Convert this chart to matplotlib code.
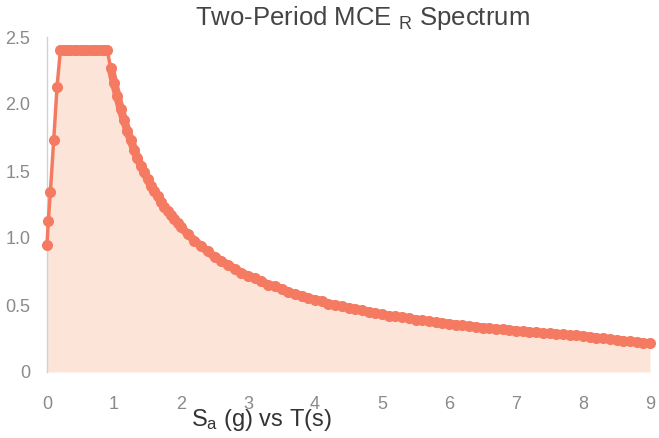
import matplotlib
matplotlib.use("Agg")
import matplotlib.pyplot as plt

# ---- data ----
period_s = [0.0, 0.02, 0.05, 0.10, 0.15,
            0.20, 0.25, 0.30, 0.35, 0.40, 0.45, 0.50, 0.55, 0.60, 0.65, 0.70, 0.75, 0.80, 0.85, 0.90,
            0.95, 1.00, 1.05, 1.10, 1.15, 1.20, 1.25, 1.30, 1.35, 1.40, 1.45, 1.50, 1.55, 1.60, 1.65,
            1.70, 1.75, 1.80, 1.85, 1.90, 1.95, 2.00,
            2.1, 2.2, 2.3, 2.4, 2.5, 2.6, 2.7, 2.8, 2.9, 3.0,
            3.1, 3.2, 3.3, 3.4, 3.5, 3.6, 3.7, 3.8, 3.9, 4.0,
            4.1, 4.2, 4.3, 4.4, 4.5, 4.6, 4.7, 4.8, 4.9, 5.0,
            5.1, 5.2, 5.3, 5.4, 5.5, 5.6, 5.7, 5.8, 5.9, 6.0,
            6.1, 6.2, 6.3, 6.4, 6.5, 6.6, 6.7, 6.8, 6.9, 7.0,
            7.1, 7.2, 7.3, 7.4, 7.5, 7.6, 7.7, 7.8, 7.9, 8.0,
            8.1, 8.2, 8.3, 8.4, 8.5, 8.6, 8.7, 8.8, 8.9, 9.0]
sa_g = [0.95, 1.13, 1.34, 1.73, 2.13,
        2.40, 2.40, 2.40, 2.40, 2.40, 2.40, 2.40, 2.40, 2.40, 2.40, 2.40, 2.40, 2.40, 2.40, 2.40,
        2.27, 2.16, 2.06, 1.96, 1.88, 1.80, 1.73, 1.66, 1.60, 1.54, 1.49, 1.44, 1.39, 1.35, 1.31,
        1.27, 1.23, 1.20, 1.17, 1.14, 1.11, 1.08,
        1.03, 0.98, 0.94, 0.90, 0.86, 0.83, 0.80, 0.77, 0.74, 0.72,
        0.70, 0.68, 0.65, 0.64, 0.62, 0.60, 0.58, 0.57, 0.55, 0.54,
        0.53, 0.51, 0.50, 0.49, 0.48, 0.47, 0.46, 0.45, 0.44, 0.43,
        0.42, 0.415, 0.41, 0.40, 0.39, 0.386, 0.38, 0.37, 0.366, 0.36,
        0.354, 0.348, 0.343, 0.338, 0.332, 0.327, 0.322, 0.318, 0.313, 0.309,
        0.304, 0.300, 0.296, 0.292, 0.288, 0.284, 0.281, 0.277, 0.273, 0.270,
        0.263, 0.257, 0.251, 0.245, 0.239, 0.234, 0.228, 0.223, 0.218, 0.213]
x_ticks = [0, 1, 2, 3, 4, 5, 6, 7, 8, 9]
y_ticks = [0, 0.5, 1.0, 1.5, 2.0, 2.5]
y_tick_labels = ["0", "0.5", "1.0", "1.5", "2.0", "2.5"]
title = r"Two-Period MCE $_{\mathrm{R}}$ Spectrum"
x_label = r"S$_{\mathrm{a}}$ (g) vs T(s)"

plt.rcParams["font.family"] = ["Liberation Sans", "DejaVu Sans"]
plt.rcParams["mathtext.fontset"] = "custom"
plt.rcParams["mathtext.rm"] = "Liberation Sans"
plt.rcParams["mathtext.it"] = "Liberation Sans"

fig = plt.figure(figsize=(6.59, 4.38), dpi=100)
ax = fig.add_axes([47 / 659, 1 - 372 / 438, (650 - 47) / 659, (372 - 37) / 438])

line_color = "#F47B62"
fill_color = "#FCE4D9"

ax.fill_between(period_s, 0, sa_g, color=fill_color, linewidth=0, zorder=1)
ax.plot(period_s, sa_g, color=line_color, linewidth=2.5, marker="o", markersize=8,
        markeredgewidth=0, clip_on=False, zorder=3)
# the dense descending branch reads as a continuous thick band
start = period_s.index(0.95)
ax.plot(period_s[start:], sa_g[start:], color=line_color, linewidth=6,
        solid_capstyle="round", clip_on=False, zorder=3)

ax.set_xlim(0, 9)
ax.set_ylim(0, 2.5)
ax.set_xticks(x_ticks)
ax.set_xticklabels([str(v) for v in x_ticks])
ax.set_yticks(y_ticks)
ax.set_yticklabels(y_tick_labels)
ax.tick_params(axis="both", length=0, colors="#8a8a8a", labelsize=13)
ax.tick_params(axis="x", pad=17)
ax.tick_params(axis="y", pad=12)

for side in ["top", "right", "bottom"]:
    ax.spines[side].set_visible(False)
ax.spines["left"].set_color("#c9d3df")
ax.spines["left"].set_linewidth(1)

fig.text(362 / 659, 1 - 18 / 438, title, ha="center", va="center", fontsize=18.5, color="#444444")
fig.text(261 / 659, 1 - 420 / 438, x_label, ha="center", va="center", fontsize=17, color="#333333")

fig.savefig("out.png", dpi=100)
